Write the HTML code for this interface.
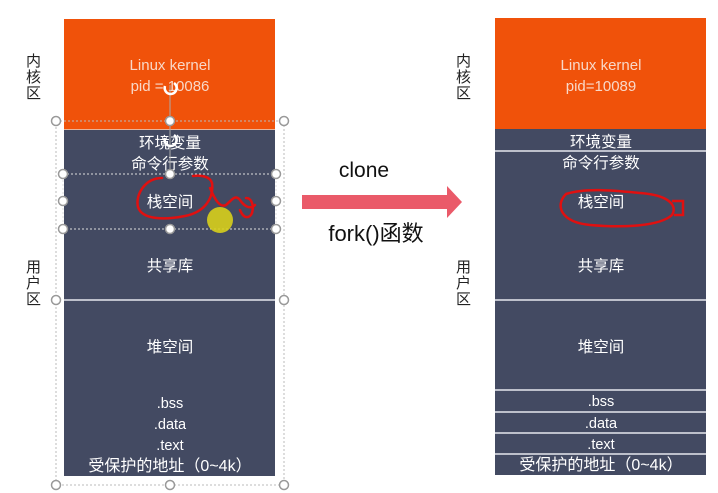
<!DOCTYPE html>
<html><head><meta charset="utf-8"><style>
html,body{margin:0;padding:0;background:#fff;}
svg{display:block;}
text{font-family:"Liberation Sans","Noto Sans CJK SC",sans-serif;}
</style></head><body>
<svg width="718" height="493" viewBox="0 0 718 493" xmlns="http://www.w3.org/2000/svg">
<!-- LEFT column -->
<rect x="64" y="19" width="211" height="110" fill="#f0520a"/>
<rect x="64" y="129" width="211" height="347" fill="#434a62"/>
<line x1="64" y1="129.5" x2="275" y2="129.5" stroke="#e8b49a" stroke-width="1"/>
<line x1="64" y1="300" x2="275" y2="300" stroke="#e6e8ee" stroke-width="1.5"/>
<g fill="#f8d8c8" font-size="15" text-anchor="middle">
<text x="170" y="70">Linux kernel</text>
<text x="170" y="91">pid = 10086</text>
</g>
<g fill="#fff" font-size="15.5" text-anchor="middle">
<text x="170" y="148">环境变量</text>
<text x="170" y="169">命令行参数</text>
<text x="170" y="207">栈空间</text>
<text x="170" y="271">共享库</text>
<text x="170" y="352">堆空间</text>
<text x="170" y="408" font-size="14.5">.bss</text>
<text x="170" y="429" font-size="14.5">.data</text>
<text x="170" y="450" font-size="14.5">.text</text>
<text x="170" y="471" font-size="16">受保护的地址（0~4k）</text>
</g>
<!-- selection boxes -->
<rect x="56" y="121" width="228" height="364" fill="none" stroke="#bbb" stroke-width="1" stroke-dasharray="2,2"/>
<rect x="63" y="174" width="213" height="55" fill="none" stroke="#ddd" stroke-width="1" stroke-dasharray="2,2"/>
<line x1="170" y1="85" x2="170" y2="174" stroke="#aaa" stroke-width="1"/>
<g fill="#fff" stroke="#999" stroke-width="1.5">
<circle cx="56" cy="121" r="4.5"/><circle cx="170" cy="121" r="4.5"/><circle cx="284" cy="121" r="4.5"/>
<circle cx="56" cy="300" r="4.5"/><circle cx="284" cy="300" r="4.5"/>
<circle cx="56" cy="485" r="4.5"/><circle cx="170" cy="485" r="4.5"/><circle cx="284" cy="485" r="4.5"/>
<circle cx="63" cy="174" r="4.5"/><circle cx="170" cy="174" r="4.5"/><circle cx="276" cy="174" r="4.5"/>
<circle cx="63" cy="201" r="4.5"/><circle cx="276" cy="201" r="4.5"/>
<circle cx="63" cy="229" r="4.5"/><circle cx="170" cy="229" r="4.5"/><circle cx="276" cy="229" r="4.5"/>
</g>
<g fill="none" stroke="#fff" stroke-width="2.5">
<path d="M165 86 a6 6 0 1 0 9 -3"/>
<path d="M165 138 a6 6 0 1 0 9 -3"/>
</g>
<!-- red scribble left -->
<circle cx="220" cy="220" r="13" fill="#d8cf1c" opacity="0.9"/>
<path d="M162 178 C145 178 135 195 138 207 C142 220 165 220 185 216 C205 212 214 198 212 183 C210 176 200 175 193 176 M210 188 C215 200 220 208 226 205 C232 200 235 194 240 200 C244 206 250 210 255 205 M240 210 C244 220 250 218 252 213 C254 206 252 198 246 198" fill="none" stroke="#e01010" stroke-width="2.5" stroke-linecap="round"/>
<!-- side labels -->
<g fill="#222" font-size="15">
<text x="26" y="66">内</text><text x="26" y="82">核</text><text x="26" y="98">区</text>
<text x="26" y="272">用</text><text x="26" y="288">户</text><text x="26" y="304">区</text>
<text x="456" y="66">内</text><text x="456" y="82">核</text><text x="456" y="98">区</text>
<text x="456" y="272">用</text><text x="456" y="288">户</text><text x="456" y="304">区</text>
</g>
<!-- arrow -->
<text x="364" y="177" font-size="21" text-anchor="middle" fill="#111">clone</text>
<polygon points="302,195 447,195 447,186 462,202 447,218 447,209 302,209" fill="#ea5a69"/>
<text x="376" y="241" font-size="22" text-anchor="middle" fill="#111">fork()函数</text>
<!-- RIGHT column -->
<rect x="495" y="18" width="211" height="111" fill="#f0520a"/>
<rect x="495" y="129" width="211" height="346" fill="#434a62"/>
<g stroke="#e6e8ee" stroke-width="1.5">
<line x1="495" y1="151" x2="706" y2="151"/>
<line x1="495" y1="300" x2="706" y2="300"/>
<line x1="495" y1="390" x2="706" y2="390"/>
<line x1="495" y1="412" x2="706" y2="412"/>
<line x1="495" y1="433" x2="706" y2="433"/>
<line x1="495" y1="454" x2="706" y2="454"/>
</g>
<g fill="#f8d8c8" font-size="15" text-anchor="middle">
<text x="601" y="70">Linux kernel</text>
<text x="601" y="91">pid=10089</text>
</g>
<g fill="#fff" font-size="15.5" text-anchor="middle">
<text x="601" y="147">环境变量</text>
<text x="601" y="168">命令行参数</text>
<text x="601" y="207">栈空间</text>
<text x="601" y="271">共享库</text>
<text x="601" y="352">堆空间</text>
<text x="601" y="406" font-size="14.5">.bss</text>
<text x="601" y="428" font-size="14.5">.data</text>
<text x="601" y="449" font-size="14.5">.text</text>
<text x="601" y="470" font-size="16">受保护的地址（0~4k）</text>
</g>
<path d="M566 194 C555 205 560 222 590 225 C625 228 660 226 672 215 C678 205 668 195 640 193 C610 190 585 188 566 194 Z M672 201 L683 201 L683 215 L674 215" fill="none" stroke="#e01010" stroke-width="2.5"/>
</svg>
</body></html>
